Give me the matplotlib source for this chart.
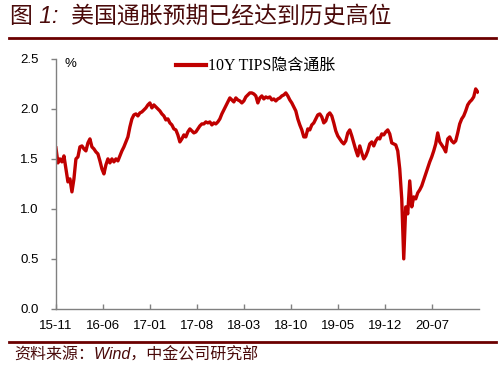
import matplotlib
matplotlib.use("Agg")
import matplotlib.pyplot as plt
import pandas as pd

# 10Y TIPS breakeven (roughly every 9 days)
start_date = "2015-11-01"
end_date = "2021-01-25"
breakeven = [
    1.61, 1.46, 1.50, 1.47, 1.53, 1.40, 1.27, 1.30, 1.17, 1.30,
    1.50, 1.52, 1.62, 1.63, 1.60, 1.58, 1.66, 1.70, 1.62, 1.60,
    1.57, 1.55, 1.48, 1.40, 1.35, 1.44, 1.50, 1.46, 1.50, 1.47,
    1.50, 1.48, 1.53, 1.58, 1.62, 1.67, 1.72, 1.82, 1.90, 1.94,
    1.95, 1.93, 1.96, 1.97, 1.99, 2.01, 2.04, 2.06, 2.01, 2.04,
    2.02, 2.00, 1.98, 1.95, 1.93, 1.89, 1.90, 1.86, 1.84, 1.80,
    1.79, 1.74, 1.67, 1.70, 1.74, 1.72, 1.77, 1.80, 1.78, 1.76,
    1.77, 1.80, 1.83, 1.85, 1.85, 1.87, 1.86, 1.87, 1.84, 1.86,
    1.85, 1.87, 1.90, 1.95, 1.99, 2.03, 2.07, 2.11, 2.09, 2.07,
    2.11, 2.09, 2.08, 2.06, 2.08, 2.12, 2.14, 2.16, 2.16, 2.15,
    2.13, 2.06, 2.11, 2.13, 2.10, 2.12, 2.11, 2.12, 2.09, 2.10,
    2.08, 2.10, 2.11, 2.13, 2.14, 2.16, 2.13, 2.09, 2.06, 2.02,
    1.98, 1.90, 1.84, 1.79, 1.72, 1.72, 1.80, 1.79, 1.84, 1.86,
    1.90, 1.94, 1.95, 1.92, 1.86, 1.88, 1.94, 1.96, 1.93, 1.86,
    1.78, 1.73, 1.70, 1.67, 1.65, 1.68, 1.76, 1.79, 1.73, 1.66,
    1.59, 1.53, 1.63, 1.56, 1.50, 1.53, 1.58, 1.65, 1.67, 1.63,
    1.68, 1.71, 1.70, 1.75, 1.74, 1.77, 1.79, 1.75, 1.66, 1.65,
    1.64, 1.58, 1.40, 1.10, 0.50, 1.02, 0.95, 1.28, 1.02, 1.12,
    1.10, 1.16, 1.19, 1.23, 1.29, 1.35, 1.41, 1.47, 1.52, 1.58,
    1.65, 1.76, 1.67, 1.64, 1.61, 1.57, 1.70, 1.72, 1.68, 1.66,
    1.68, 1.76, 1.85, 1.90, 1.93, 1.98, 2.04, 2.07, 2.09, 2.12,
    2.20, 2.17,
]
tick_dates = ["2015-11-01", "2016-06-01", "2017-01-01", "2017-08-01", "2018-03-01",
              "2018-10-01", "2019-05-01", "2019-12-01", "2020-07-01"]
tick_labels = ["15-11", "16-06", "17-01", "17-08", "18-03", "18-10", "19-05", "19-12", "20-07"]

title = "图 1:  美国通胀预期已经达到历史高位"
source = "资料来源：Wind，中金公司研究部"
series_name = "10Y TIPS隐含通胀"

plt.rcParams['font.family'] = ['Liberation Sans', 'Noto Sans CJK SC', 'DejaVu Sans']

dates = pd.date_range(start_date, end_date, periods=len(breakeven))

fig = plt.figure(figsize=(5.04, 3.73), dpi=100)
ax = fig.add_axes([0.111, 0.172, 0.839, 0.670])

line_color = '#c00000'
dark = '#6b0000'
grey = '#808080'

ax.plot(dates, breakeven, color=line_color, linewidth=2.4, label=series_name)

ax.set_ylim(0, 2.5)
ax.set_yticks([0, 0.5, 1.0, 1.5, 2.0, 2.5])
ax.set_yticklabels(['%.1f' % v for v in [0, 0.5, 1.0, 1.5, 2.0, 2.5]])
ax.set_xlim(pd.Timestamp(start_date), pd.Timestamp("2021-01-30"))
ax.set_xticks(pd.to_datetime(tick_dates))
ax.set_xticklabels(tick_labels)

for side in ['top', 'right']:
    ax.spines[side].set_visible(False)
for side in ['left', 'bottom']:
    ax.spines[side].set_color(grey)
    ax.spines[side].set_linewidth(1.0)

ax.tick_params(axis='y', direction='out', length=3.5, width=1, color=grey,
               pad=9, labelsize=9.5, labelcolor='black')
ax.tick_params(axis='x', direction='in', length=3.5, width=1, color=grey,
               pad=8, labelsize=9.5, labelcolor='black')

ax.text(0.02, 0.98, '%', transform=ax.transAxes, fontsize=9.5, va='center', ha='left')

leg = ax.legend(loc='upper left', bbox_to_anchor=(0.27, 1.025), frameon=False,
                handlelength=2.2, handletextpad=0.1, borderaxespad=0)
for t in leg.get_texts():
    t.set_fontfamily(['Liberation Serif', 'Noto Sans CJK SC'])
    t.set_fontsize(11.5)
for h in leg.legend_handles:
    h.set_linewidth(3)

# header and footer bars
fig.add_artist(plt.Line2D([9 / 504, 496 / 504], [1 - 37.5 / 373] * 2,
                          transform=fig.transFigure, color=dark, linewidth=2))
fig.add_artist(plt.Line2D([9 / 504, 496 / 504], [1 - 341.5 / 373] * 2,
                          transform=fig.transFigure, color=dark, linewidth=2))

fig.text(10 / 504, 1 - 16 / 373, title, fontsize=16.5, style='italic',
         color='#4a0a0a', va='center', ha='left')
fig.text(14 / 504, 1 - 355 / 373, source, fontsize=11.5, style='italic',
         color='#4a0a0a', va='center', ha='left')

fig.savefig('out.png', dpi=100)
